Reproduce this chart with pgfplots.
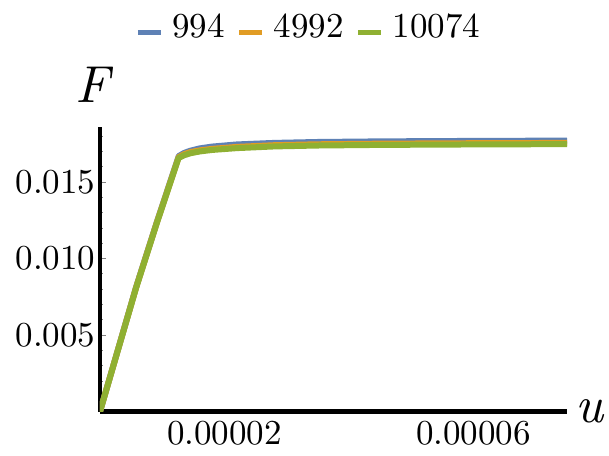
\documentclass[border=0pt]{standalone}
\usepackage{fontspec}
\setmainfont{lmroman10-regular.otf}[ItalicFont=lmroman10-italic.otf, BoldFont=lmroman10-bold.otf]
\usepackage{pgfplots}
\pgfplotsset{compat=1.18}
\definecolor{mblue}{rgb}{0.368417,0.506779,0.709798}
\definecolor{morange}{rgb}{0.880722,0.611041,0.142051}
\definecolor{mgreen}{rgb}{0.560181,0.691569,0.194885}
\begin{document}
\begin{tikzpicture}
\useasboundingbox (-100pt,-43.5pt) rectangle (509pt,411.5pt);
\begin{axis}[
  at={(0pt,0pt)}, anchor=south west,
  scale only axis, width=467pt, height=284.5pt,
  xmin=0, xmax=7.5e-5, ymin=0, ymax=0.0186,
  axis x line=bottom, axis y line=left,
  axis line style={line width=4.5pt, -, black},
  xtick={2e-5,6e-5}, xticklabels={0.00002,0.00006},
  ytick={0.005,0.010,0.015}, yticklabels={0.005,0.010,0.015},
  minor ytick={0.001,0.002,0.003,0.004,0.006,0.007,0.008,0.009,0.011,0.012,0.013,0.014,0.016,0.017,0.018},
  scaled x ticks=false, scaled y ticks=false,
  tick align=inside, major tick length=6pt, minor tick length=3.5pt,
  xtick style={draw=none},
  ytick style={gray, line width=0.8pt},
  /pgf/number format/assume math mode=true,
  tick label style={font=\fontsize{35}{40}\selectfont},
  xticklabel style={yshift=-6pt},
  yticklabel style={xshift=-1pt},
  every axis x label/.style={at={(axis description cs:1,0)}, anchor=west, xshift=5pt, font=\fontsize{52}{60}\selectfont},
  every axis y label/.style={at={(axis description cs:-0.012,1.148)}, anchor=center, font=\fontsize{52}{60}\selectfont},
  xlabel={\textit{u}}, ylabel={\textit{F}},
  legend style={at={(0.447,1.355)}, anchor=center, draw=none, fill=none,
    font=\fontsize{35}{40}\selectfont, inner sep=0pt,
    /tikz/every odd column/.append style={column sep=7pt},
    /tikz/every even column/.append style={column sep=10pt}},
  legend columns=3,
  legend image code/.code={\draw[line width=5pt,#1] (0pt,-6pt) -- (23pt,-6pt);},
  every axis plot/.append style={line width=6pt, line join=round},
]
\addplot[mblue] coordinates {
(0,0) (0.581e-5,0.00815) (0.919e-5,0.01246) (1.265e-5,0.01670) (1.35e-5,0.01690) (1.45e-5,0.01705)
(1.6e-5,0.01720) (1.8e-5,0.01732) (2.2e-5,0.01746) (2.8e-5,0.01756) (3.5e-5,0.01762)
(4.5e-5,0.01766) (6e-5,0.01769) (7.5e-5,0.01771)};
\addlegendentry{994}
\addplot[morange] coordinates {
(0,0) (0.581e-5,0.00812) (0.919e-5,0.01243) (1.263e-5,0.01663) (1.35e-5,0.01682) (1.45e-5,0.01696)
(1.6e-5,0.01707) (1.8e-5,0.01717) (2.2e-5,0.01730) (2.8e-5,0.01741) (3.5e-5,0.01747)
(4.5e-5,0.01751) (6e-5,0.01754) (7.5e-5,0.01756)};
\addlegendentry{4992}
\addplot[mgreen] coordinates {
(0,0) (0.581e-5,0.00810) (0.919e-5,0.01240) (1.261e-5,0.01657) (1.35e-5,0.01675) (1.45e-5,0.01688)
(1.6e-5,0.01700) (1.8e-5,0.01710) (2.2e-5,0.01722) (2.8e-5,0.01733) (3.5e-5,0.01739)
(4.5e-5,0.01743) (6e-5,0.01746) (7.5e-5,0.01748)};
\addlegendentry{10074}
\end{axis}
\end{tikzpicture}
\end{document}
